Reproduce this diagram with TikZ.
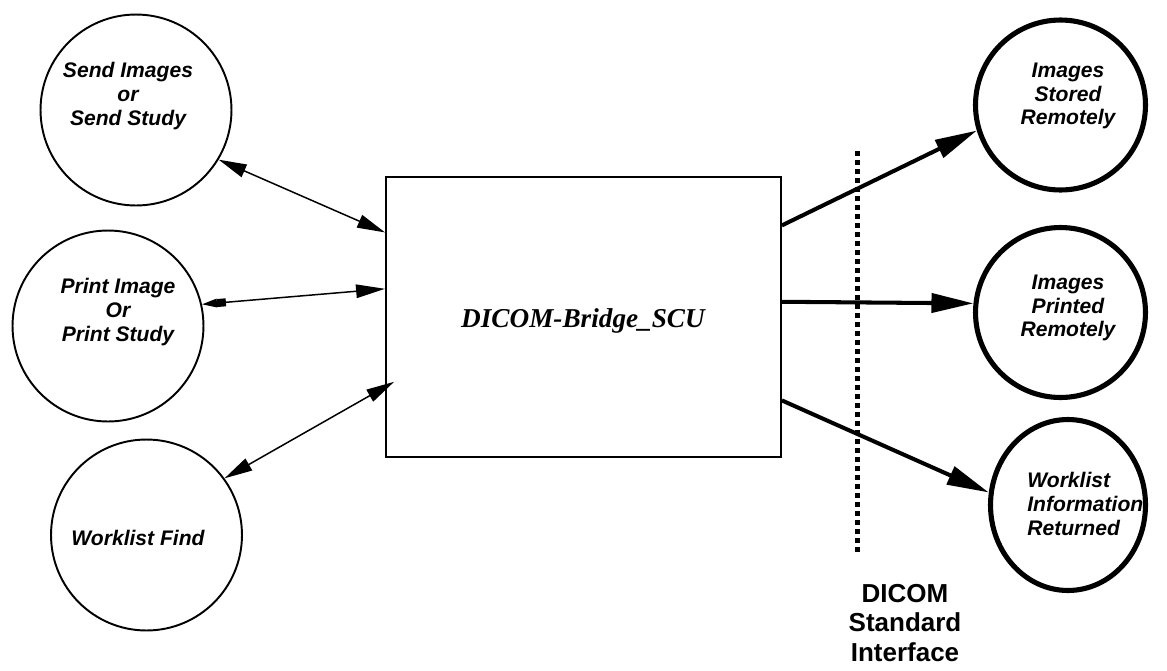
\documentclass[tikz,border=0pt]{standalone}
\usepackage{fontspec}
\setmainfont{Liberation Sans}
\newfontfamily\timesfont{Liberation Serif}
\usetikzlibrary{arrows.meta,shapes.geometric,calc}
\tikzset{
  lcirc/.style={circle,draw,line width=1.1pt,minimum size=3.82cm,inner sep=0pt},
  rcirc/.style={circle,draw,line width=2.9pt,minimum size=3.4cm,inner sep=0pt},
  lbl/.style={font=\fontsize{12}{13.6}\selectfont\bfseries\itshape,align=center,inner sep=0pt},
  thin arrow/.style={line width=0.85pt,{Triangle[length=0.56cm,width=0.27cm]}-{Triangle[length=0.56cm,width=0.27cm]}},
  thick arrow/.style={line width=2.3pt,-{Triangle[length=0.84cm,width=0.38cm]}},
}
\begin{document}
\begin{tikzpicture}[x=0.02cm,y=-0.02cm]
\useasboundingbox (0,0) rectangle (1167,670);
% left circles
\node[lcirc] (c1) at (136,110) {};
\node[lcirc] (c2) at (108,326) {};
\node[lcirc] (c3) at (146.5,535) {};
\node[lbl] (t1) at (128,96) {Send Images\\or\\Send Study};
\node[lbl] (t2) at (118,312) {Print Image\\Or\\Print Study};
\node[lbl] (t3) at (138,538) {Worklist Find};
% box
\node[draw,line width=1.1pt,minimum width=7.9cm,minimum height=5.6cm,inner sep=0pt] (box) at (583.5,317) {};
\node[font=\fontsize{15.5}{18}\selectfont\timesfont\bfseries\itshape] (bt) at (583,321) {DICOM-Bridge\_SCU};
% right circles
\node[rcirc] (ca) at (1060.5,105) {};
\node[rcirc] (cb) at (1060.5,312.5) {};
\node[ellipse,draw,line width=2.9pt,minimum width=3.1cm,minimum height=3.42cm,inner sep=0pt] (cc) at (1068,505) {};
\node[lbl] (ta) at (1068,96) {Images\\Stored\\Remotely};
\node[lbl] (tb) at (1068,308) {Images\\Printed\\Remotely};
\node[lbl,align=left,anchor=west] (tc) at (1027,504) {Worklist\\Information\\Returned};
% interface
\coordinate (dtop) at (857,151);
\coordinate (dbot) at (857,553);
\draw[line width=0.1cm,dash pattern=on 0.1cm off 0.08cm] (dtop) -- (dbot);
\node[font=\fontsize{14.8}{16.6}\selectfont\bfseries,align=center] (iface) at (905,623) {DICOM\\Standard\\Interface};
% left connectors
\draw[thin arrow] (c1.-31.7) -- ($(box.north west)!0.2!(box.south west)$);
\draw[line width=0.85pt,{Triangle[length=0.3cm,width=0.17cm]Rectangle[length=0.18cm,width=0.16cm]}-{Triangle[length=0.58cm,width=0.27cm]}] (c2.13.9) -- ($(box.north west)!0.4!(box.south west)$);
\draw[thin arrow] (c3.36.3) -- ($(box.north west)!0.73!(box.south west)+(9,0)$);
% right connectors
\draw[thick arrow] ($(box.north east)!0.175!(box.south east)$) -- (ca.197);
\draw[thick arrow] ($(box.north east)!0.446!(box.south east)$) -- (cb.174);
\draw[thick arrow] ($(box.north east)!0.796!(box.south east)$) -- (cc.171.6);
\end{tikzpicture}
\end{document}
